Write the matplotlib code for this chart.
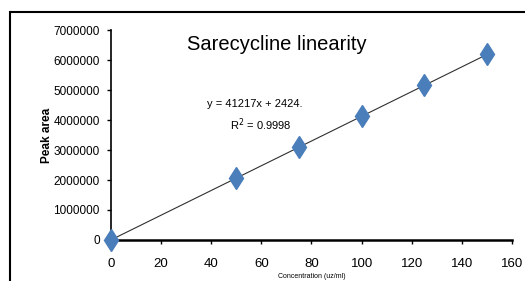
import matplotlib
matplotlib.use("Agg")
import matplotlib.pyplot as plt
from matplotlib.patches import Rectangle

# Data
conc = [0, 50, 75, 100, 125, 150]
peak_area = [0, 2080000, 3110000, 4150000, 5170000, 6200000]
slope = 41217
intercept = 2424
x_ticks = [0, 20, 40, 60, 80, 100, 120, 140, 160]
y_ticks = [0, 1000000, 2000000, 3000000, 4000000, 5000000, 6000000, 7000000]

plt.rcParams['font.family'] = ['Liberation Sans', 'DejaVu Sans']

fig = plt.figure(figsize=(5.25, 2.81), dpi=100)
ax = fig.add_axes([0.2114, 0.146, 0.7638, 0.747])

# outer frame of the chart area
fig.patches.append(Rectangle((10 / 525, -0.05), 1.0, 1 - 12 / 281 + 0.05,
                             transform=fig.transFigure, fill=False,
                             edgecolor="black", linewidth=1.5))

# linear fit line + measured points
fit_x = [conc[0], conc[-1]]
fit_y = [slope * v + intercept for v in fit_x]
ax.plot(fit_x, fit_y, color="#303030", linewidth=0.8, zorder=2)
ax.plot(conc, peak_area, linestyle="none", marker="d", markersize=11.5,
        color="#4a7ebb", zorder=3, clip_on=False)

ax.set_xlim(0, 160)
ax.set_ylim(0, 7000000)
ax.set_xticks(x_ticks)
ax.set_yticks(y_ticks)
ax.set_xticklabels([str(v) for v in x_ticks])
ax.set_yticklabels([str(v) for v in y_ticks])
ax.tick_params(axis="both", length=3, width=1, direction="out")
ax.tick_params(axis="x", labelsize=9.5, pad=10)
ax.tick_params(axis="y", labelsize=8.5, pad=5)
ax.spines["top"].set_visible(False)
ax.spines["right"].set_visible(False)
ax.spines["left"].set_linewidth(1.2)
ax.spines["bottom"].set_linewidth(1.8)

fig.text(0.527, 0.84, "Sarecycline linearity", ha="center", va="center",
         fontsize=14.5)
fig.text(0.486, 0.63, "y = 41217x + 2424.", ha="center", va="center",
         fontsize=8)
fig.text(0.497, 0.555, "R$^2$ = 0.9998", ha="center", va="center",
         fontsize=8)

fig.text(0.09, 0.52, "Peak area", rotation=90, ha="center", va="center",
         fontsize=8.5, fontweight="bold")
fig.text(0.594, 0.015, "Concentration (uz/ml)", ha="center", va="center",
         fontsize=5)

fig.savefig("out.png", dpi=100)
